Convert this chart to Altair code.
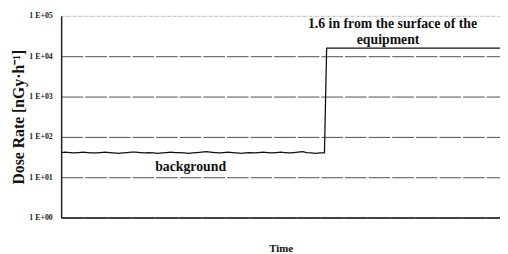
import altair as alt
import pandas as pd

# background readings (nGy/h) before the jump, and the level near the equipment
bg_time = list(range(0, 61))
bg_rate = [41, 42, 41, 40, 41, 42, 41, 40, 40, 41, 42, 41, 40, 39, 40, 41, 42, 42, 41, 40,
           41, 40, 39, 40, 41, 42, 41, 41, 40, 39, 40, 41, 42, 43, 42, 41, 40, 41, 42, 41,
           40, 39, 40, 41, 40, 41, 42, 41, 40, 41, 42, 41, 40, 41, 42, 43, 41, 40, 39, 40, 40]
hi_time = [60.5, 100]
hi_rate = [15800, 15800]

ann_text = ["1.6 in from the surface of the", "equipment", "background"]
ann_x = [75.5, 74.5, 29.5]
ann_y = [62000, 24500, 17.5]

y_ticks = [1, 10, 100, 1000, 10000, 100000]

df = pd.DataFrame({"t": bg_time + hi_time, "rate": bg_rate + hi_rate})
ann = pd.DataFrame({"t": ann_x, "rate": ann_y, "label": ann_text})

FONT = "Liberation Serif, Times New Roman, serif"

x = alt.X("t:Q", scale=alt.Scale(domain=[0, 100], nice=False, zero=False),
          axis=alt.Axis(title="Time", labels=False, ticks=False, grid=False,
                        domainColor="#222", domainWidth=1.5,
                        titleFont=FONT, titleFontSize=11, titleFontWeight="bold",
                        titleColor="#111", titlePadding=25))
y = alt.Y("rate:Q", scale=alt.Scale(type="log", domain=[1, 100000], nice=False),
          axis=alt.Axis(title="Dose Rate [nGy·h⁻¹]", values=y_ticks,
                        labelExpr="'1 E+0' + round(log(datum.value)/LN10)",
                        labelFont=FONT, labelFontSize=8, labelFontWeight="bold",
                        labelColor="#222", labelPadding=9, tickSize=0,
                        grid=True,
                        gridColor=alt.condition("datum.value == 100000", alt.value("#bbbbbb"), alt.value("#4d4d4d")),
                        gridDash=alt.condition("datum.value == 100000", alt.value([2, 4]), alt.value([22, 2])),
                        gridWidth=1,
                        domainColor="#222", domainWidth=1.5,
                        titleFont=FONT, titleFontSize=16, titleFontWeight="bold",
                        titleColor="#111", titlePadding=2))

line = alt.Chart(df).mark_line(color="#111", strokeWidth=1.3, interpolate="linear").encode(
    x=x, y=y, order="t:Q")

text = alt.Chart(ann).mark_text(font=FONT, fontSize=14, fontWeight="bold", color="#111").encode(
    x="t:Q", y="rate:Q", text="label:N")

chart = alt.layer(line, text).properties(
    width=446, height=205,
    autosize=alt.AutoSizeParams(type="none"),
    padding={"left": 54, "top": 6, "right": 0, "bottom": 35},
).configure_view(stroke=None).configure(background="white")

chart.save("out.html", embed_options={"renderer": "svg", "actions": False})
